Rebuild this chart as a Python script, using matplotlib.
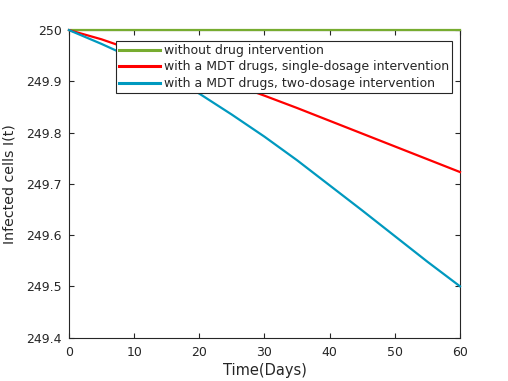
import matplotlib
matplotlib.use("Agg")
import matplotlib.pyplot as plt
from matplotlib.ticker import FuncFormatter

days = [0, 5, 10, 15, 20, 25, 30, 35, 40, 45, 50, 55, 60]
no_drug = [250.0] * 13
single_dose = [250.0, 249.982, 249.960, 249.938, 249.916, 249.895, 249.872,
               249.848, 249.823, 249.798, 249.773, 249.748, 249.723]
two_dose = [250.0, 249.973, 249.944, 249.912, 249.876, 249.835, 249.792,
            249.746, 249.697, 249.648, 249.598, 249.548, 249.5]
labels = ["without drug intervention",
          "with a MDT drugs, single-dosage intervention",
          "with a MDT drugs, two-dosage intervention"]
colors = ["#77AC30", "#FF0000", "#0099BF"]
xticks = [0, 10, 20, 30, 40, 50, 60]
yticks = [249.4, 249.5, 249.6, 249.7, 249.8, 249.9, 250.0]

tc = "#262626"
plt.rcParams['font.family'] = ['DejaVu Sans']
fig = plt.figure(figsize=(5.08, 3.81), dpi=100)
ax = fig.add_axes([0.1358, 0.114, 0.7697, 0.807])
for y, lab, c in zip([no_drug, single_dose, two_dose], labels, colors):
    ax.plot(days, y, color=c, lw=1.6, label=lab, clip_on=False, zorder=3)
ax.set_xlim(0, 60)
ax.set_ylim(249.4, 250.0)
ax.set_xticks(xticks)
ax.set_yticks(yticks)
ax.yaxis.set_major_formatter(FuncFormatter(lambda v, p: f"{v:g}"))
ax.tick_params(direction='in', top=True, right=True, length=3.5, width=0.8,
               colors=tc, labelsize=9, labelcolor=tc)
ax.tick_params(axis='x', pad=6)
ax.tick_params(axis='y', pad=5)
for s in ax.spines.values():
    s.set_color(tc)
    s.set_linewidth(0.8)
ax.set_xlabel("Time(Days)", fontsize=10.5, color=tc, labelpad=3)
ax.set_ylabel("Infected cells I(t)", fontsize=10.2, color=tc, labelpad=7)
leg = ax.legend(loc='upper left', bbox_to_anchor=(0.12, 0.965), fontsize=9,
                frameon=True, fancybox=False, handlelength=3.3, framealpha=1,
                borderpad=0.25, labelspacing=0.28, handletextpad=0.3,
                borderaxespad=0)
leg.get_frame().set_edgecolor(tc)
leg.get_frame().set_linewidth(0.8)
leg.set_zorder(5)
for t in leg.get_texts():
    t.set_color(tc)
for l in leg.get_lines():
    l.set_linewidth(2.2)
fig.savefig("out.png", dpi=100)
